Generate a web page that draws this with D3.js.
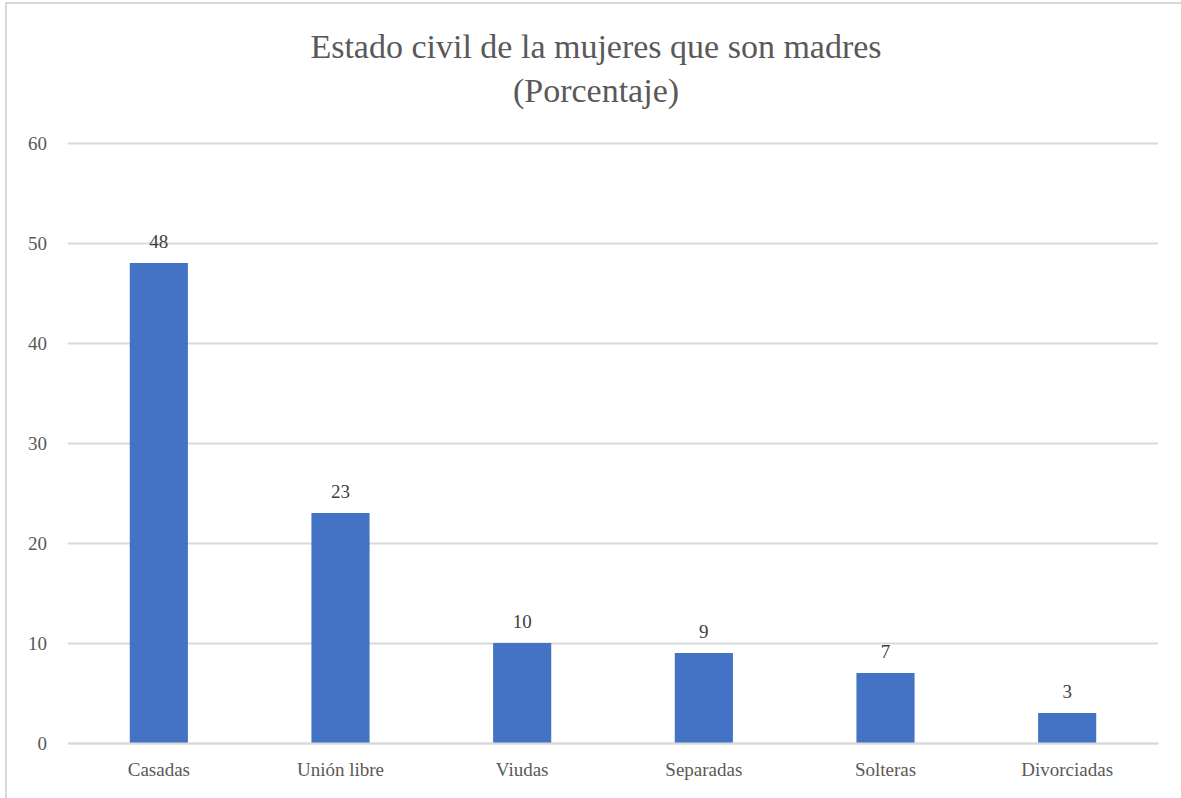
<!DOCTYPE html>
<html><head><meta charset="utf-8">
<script src="https://cdn.jsdelivr.net/npm/d3@7"></script>
</head><body style="margin:0;background:#fff">
<svg id="c" width="1181" height="798" style="display:block"></svg>
<script>
const categories = ["Casadas","Unión libre","Viudas","Separadas","Solteras","Divorciadas"];
const values = [48,23,10,9,7,3];
const yTicks = [0,10,20,30,40,50,60];
const titleLines = ["Estado civil de la mujeres que son madres","(Porcentaje)"];

(function(){
const svg = d3.select("#c");
svg.append("rect").attr("x",6).attr("y",3).attr("width",1190).attr("height",820)
  .attr("fill","#fff").attr("stroke","#d9d9d9").attr("stroke-width",2);

const pl=68, pr=1158, pt=143, pb=743;
const x = d3.scaleBand().domain(categories).range([pl,pr]).paddingInner(0.68).paddingOuter(0.34);
const y = d3.scaleLinear().domain([0,60]).range([pb,pt]);

const yAxis = svg.append("g").attr("transform",`translate(${pl},0)`)
  .call(d3.axisLeft(y).tickValues(yTicks).tickSize(-(pr-pl)).tickPadding(21));
yAxis.attr("font-family",null).attr("font-size",null);
yAxis.select(".domain").remove();
yAxis.selectAll("line").attr("stroke","#d9d9d9").attr("stroke-width",2);
yAxis.selectAll("text").attr("font-size",19).attr("fill","#595959");

svg.selectAll("rect.bar").data(values).join("rect").attr("class","bar")
  .attr("x",(d,i)=>x(categories[i])).attr("width",x.bandwidth())
  .attr("y",d=>y(d)).attr("height",d=>y(0)-y(d)).attr("fill","#4472c4");

svg.selectAll("text.lbl").data(values).join("text").attr("class","lbl")
  .attr("x",(d,i)=>x(categories[i])+x.bandwidth()/2).attr("y",d=>y(d)-15)
  .attr("text-anchor","middle").attr("font-size",19).attr("fill","#404040")
  .text(d=>d);

const xAxis = svg.append("g").attr("transform",`translate(0,${pb})`)
  .call(d3.axisBottom(x).tickSize(0).tickPadding(20));
xAxis.attr("font-family",null).attr("font-size",null);
xAxis.select(".domain").attr("stroke","#d9d9d9").attr("stroke-width",2);
xAxis.selectAll("text").attr("font-size",19).attr("fill","#595959");

svg.selectAll("text.title").data(titleLines).join("text").attr("class","title")
  .attr("x",596).attr("y",(d,i)=>58+i*44).attr("text-anchor","middle")
  .attr("font-size",34).attr("fill","#595959").text(d=>d);
})();
</script>
</body></html>
